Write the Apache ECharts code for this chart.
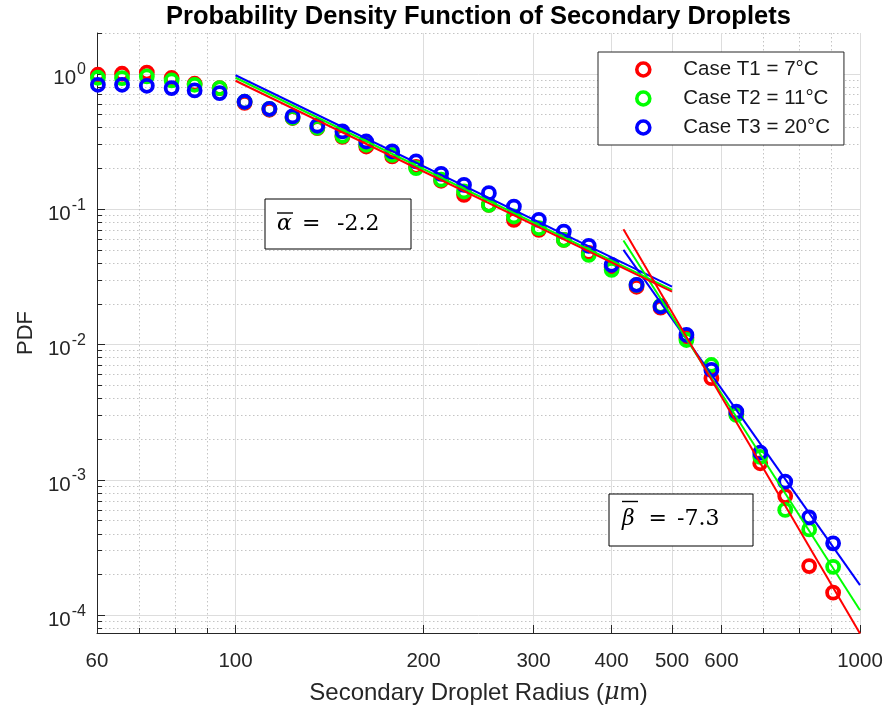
<!DOCTYPE html>
<html><head><meta charset="utf-8">
<script src="https://cdn.jsdelivr.net/npm/echarts@6/dist/echarts.min.js"></script>
<style>html,body{margin:0;padding:0;background:#fff}#c{width:888px;height:713px}</style>
</head><body><div id="c"></div>
<script>
// ---- data ----
const radius = [60.2, 65.8, 72.1, 79.0, 86.0, 94.3, 103.4, 113.3, 123.4, 135.2, 148.3, 161.9, 178.2, 194.6, 213.4, 232.2, 254.5, 279.1, 306.0, 335.5, 367.8, 400.2, 438.7, 479.3, 527.3, 578.1, 633.8, 692.2, 759.0, 829.0, 905.6];
const pdfT1 = [0.983, 1.0, 1.02, 0.93, 0.844, 0.784, 0.61, 0.542, 0.471, 0.397, 0.342, 0.290, 0.245, 0.2055, 0.162, 0.1276, 0.1076, 0.0834, 0.0703, 0.0593, 0.0475, 0.0374, 0.0267, 0.0187, 0.0112, 0.00564, 0.00307, 0.001327, 0.00076, 0.000231, 0.000147];
const pdfT2 = [0.934, 0.929, 0.955, 0.892, 0.829, 0.784, 0.621, 0.551, 0.473, 0.399, 0.348, 0.299, 0.252, 0.201, 0.165, 0.135, 0.1076, 0.0882, 0.0724, 0.0593, 0.0459, 0.0356, 0.0276, 0.0193, 0.0108, 0.00706, 0.00302, 0.00148, 0.00060, 0.000431, 0.000228];
const pdfT3 = [0.829, 0.829, 0.815, 0.784, 0.753, 0.720, 0.621, 0.551, 0.484, 0.413, 0.375, 0.316, 0.267, 0.225, 0.1824, 0.151, 0.1313, 0.1045, 0.0834, 0.0683, 0.0535, 0.0388, 0.0276, 0.0191, 0.01178, 0.00649, 0.00319, 0.00159, 0.00097, 0.000529, 0.000340];
const fitAlphaX = [100, 500];
const fitAlphaT1 = [0.888, 0.0246];
const fitAlphaT2 = [0.934, 0.02535];
const fitAlphaT3 = [0.975, 0.0268];
const fitBetaX = [418, 1000];
const fitBetaT1 = [0.0711, 0.0000735];
const fitBetaT2 = [0.0586, 0.000109];
const fitBetaT3 = [0.0500, 0.000167];
const seriesNames = ['Case T1 = 7°C', 'Case T2 = 11°C', 'Case T3 = 20°C'];
const xTickLabels = [60, 100, 200, 300, 400, 500, 600, 1000];
const xMinorTicks = [70, 80, 90, 700, 800, 900];
const yTickLabels = [1e-4, 1e-3, 1e-2, 1e-1, 1];
const yMinorTicks = [8e-5, 9e-5,
  2e-4, 3e-4, 4e-4, 5e-4, 6e-4, 7e-4, 8e-4, 9e-4,
  2e-3, 3e-3, 4e-3, 5e-3, 6e-3, 7e-3, 8e-3, 9e-3,
  2e-2, 3e-2, 4e-2, 5e-2, 6e-2, 7e-2, 8e-2, 9e-2,
  2e-1, 3e-1, 4e-1, 5e-1, 6e-1, 7e-1, 8e-1, 9e-1, 2];
const xRange = [60, 1000];
const yRange = [7.4e-5, 2];

// ---- build ----
const L = Math.log10;
const pts = (xs, ys) => xs.map((x, i) => [L(x), L(ys[i])]);
const AX = '#262626';
const COLORS = ['#ff0000', '#00ff00', '#0000ff'];
const SANS = 'Liberation Sans, Arial, sans-serif';
const SERIF = 'DejaVu Serif, serif';
const xMin = L(xRange[0]), xMax = L(xRange[1]);
const yMin = L(yRange[0]), yMax = L(yRange[1]);
const majorGrid = {show: true, lineStyle: {color: '#dddddd', width: 1}};
const minorGrid = {show: true, lineStyle: {color: '#c4c4c4', width: 1, type: [1.5, 2.5]}};

const pdfs = [pdfT1, pdfT2, pdfT3];
const alphas = [fitAlphaT1, fitAlphaT2, fitAlphaT3];
const betas = [fitBetaT1, fitBetaT2, fitBetaT3];

const series = [];
pdfs.forEach((p, i) => series.push({
  name: seriesNames[i], type: 'scatter', xAxisIndex: 0, yAxisIndex: 0,
  data: pts(radius, p), symbol: 'circle', symbolSize: 12,
  itemStyle: {color: 'rgba(0,0,0,0)', borderColor: COLORS[i], borderWidth: 3.8, opacity: 1},
  emphasis: {disabled: true}, z: 2 + i
}));
[2, 1, 0].forEach((i, k) => {
  series.push({name: 'alpha fit ' + (i + 1), type: 'line', data: pts(fitAlphaX, alphas[i]),
    showSymbol: false, symbol: 'none', lineStyle: {color: COLORS[i], width: 2}, z: 6 + k, emphasis: {disabled: true}});
  series.push({name: 'beta fit ' + (i + 1), type: 'line', data: pts(fitBetaX, betas[i]),
    showSymbol: false, symbol: 'none', lineStyle: {color: COLORS[i], width: 2}, z: 6 + k, emphasis: {disabled: true}});
});

const chart = echarts.init(document.getElementById('c'));
chart.setOption({
  animation: false,
  backgroundColor: '#ffffff',
  title: {
    text: 'Probability Density Function of Secondary Droplets',
    left: 166, top: 2, padding: [2, 0, 0, 0],
    textStyle: {fontFamily: SANS, fontWeight: 'bold', fontSize: 25.5, color: '#000'}
  },
  grid: {left: 97, top: 33, right: 28, bottom: 80, containLabel: false},
  legend: {
    orient: 'vertical', left: 598, top: 52,
    padding: [7, 14, 7, 37], itemWidth: 70, itemHeight: 13, itemGap: 8,
    borderColor: AX, borderWidth: 1, backgroundColor: '#fff',
    textStyle: {fontFamily: SANS, fontSize: 20.5, color: '#1a1a1a', lineHeight: 20},
    data: seriesNames.map((n, i) => ({name: n, icon: 'circle',
      itemStyle: {color: 'rgba(0,0,0,0)', borderColor: COLORS[i], borderWidth: 3.6, opacity: 1}}))
  },
  xAxis: [{
    type: 'value', min: xMin, max: xMax,
    name: 'Secondary Droplet Radius ({i|μ}m)', nameLocation: 'middle', nameGap: 48,
    nameTextStyle: {fontFamily: SANS, fontSize: 24, color: AX,
      rich: {i: {fontFamily: SERIF, fontStyle: 'italic', fontSize: 24, color: AX}}},
    axisLine: {show: true, onZero: false, lineStyle: {color: AX, width: 1}},
    axisTick: {show: true, inside: true, length: 8, customValues: xTickLabels.map(L), lineStyle: {color: AX}},
    axisLabel: {customValues: xTickLabels.map(L), formatter: v => String(Math.round(Math.pow(10, v))),
      color: AX, fontFamily: SANS, fontSize: 20.5, margin: 18},
    splitLine: majorGrid
  }, {
    type: 'value', min: xMin, max: xMax, position: 'bottom',
    axisLine: {show: false, onZero: false},
    axisTick: {show: true, inside: true, length: 5, customValues: xMinorTicks.map(L), lineStyle: {color: AX}},
    axisLabel: {show: false},
    splitLine: minorGrid
  }],
  yAxis: [{
    type: 'value', min: yMin, max: yMax,
    name: 'PDF', nameLocation: 'middle', nameGap: 55,
    nameTextStyle: {fontFamily: SANS, fontSize: 22, color: AX},
    axisLine: {show: true, onZero: false, lineStyle: {color: AX, width: 1}},
    axisTick: {show: true, inside: true, length: 8, customValues: yTickLabels.map(L), lineStyle: {color: AX}},
    axisLabel: {customValues: yTickLabels.map(L), margin: 11, padding: [10, 0, 0, 0],
      formatter: v => '{b|10}{s|' + Math.round(v) + '}',
      rich: {
        b: {fontFamily: SANS, fontSize: 20.5, color: AX, lineHeight: 34, verticalAlign: 'middle'},
        s: {fontFamily: SANS, fontSize: 16, color: AX, lineHeight: 16, verticalAlign: 'top', padding: [0, 0, 0, 1]}
      }},
    splitLine: majorGrid
  }, {
    type: 'value', min: yMin, max: yMax, position: 'left',
    axisLine: {show: false, onZero: false},
    axisTick: {show: true, inside: true, length: 5, customValues: yMinorTicks.map(L), lineStyle: {color: AX}},
    axisLabel: {show: false},
    splitLine: minorGrid
  }],
  series: series,
  graphic: [
    {type: 'rect', shape: {x: 265, y: 199, width: 146, height: 50}, style: {fill: '#fff', stroke: '#000', lineWidth: 1}, z: 100},
    {type: 'text', x: 277, y: 224, z: 101, style: {
      text: '{a|α}{e|=}{n|-2.2}', verticalAlign: 'middle',
      rich: {
        a: {fontFamily: SERIF, fontStyle: 'italic', fontSize: 22, width: 25, fill: '#000'},
        e: {fontFamily: SERIF, fontSize: 22, width: 35, fill: '#000'},
        n: {fontFamily: SERIF, fontSize: 22, fill: '#000'}
      }}},
    {type: 'line', shape: {x1: 277, y1: 213, x2: 293, y2: 213}, style: {stroke: '#000', lineWidth: 1.4}, z: 101},
    {type: 'rect', shape: {x: 609, y: 494, width: 144, height: 52}, style: {fill: '#fff', stroke: '#000', lineWidth: 1}, z: 100},
    {type: 'text', x: 622, y: 519, z: 101, style: {
      text: '{a|β}{e|=}{n|-7.3}', verticalAlign: 'middle',
      rich: {
        a: {fontFamily: SERIF, fontStyle: 'italic', fontSize: 22, width: 26.5, fill: '#000'},
        e: {fontFamily: SERIF, fontSize: 22, width: 28.5, fill: '#000'},
        n: {fontFamily: SERIF, fontSize: 22, fill: '#000'}
      }}},
    {type: 'line', shape: {x1: 622, y1: 501.5, x2: 638, y2: 501.5}, style: {stroke: '#000', lineWidth: 1.4}, z: 101}
  ]
});
</script>
</body></html>
